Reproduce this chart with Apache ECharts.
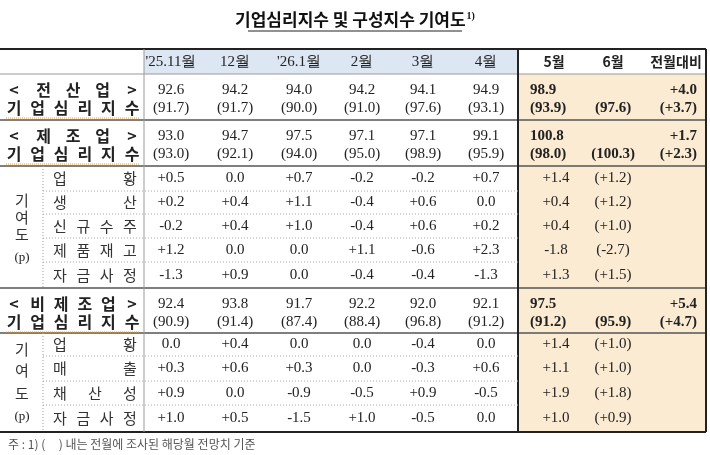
<!DOCTYPE html><html><head><meta charset="utf-8">
<script src="https://cdn.jsdelivr.net/npm/echarts@6/dist/echarts.min.js"></script>
<style>html,body{margin:0;padding:0;background:#fff}#c{width:710px;height:455px}</style></head><body><div id="c"></div>
<script>
// ---- data ----
const months = ["'25.11월","12월","'26.1월","2월","3월","4월","5월","6월","전월대비"];
const allIdx = ["92.6","94.2","94.0","94.2","94.1","94.9","98.9"];
const allPrev = ["91.7","91.7","90.0","91.0","97.6","93.1","93.9","97.6"];
const allChg = ["+4.0","+3.7"];
const mfgIdx = ["93.0","94.7","97.5","97.1","97.1","99.1","100.8"];
const mfgPrev = ["93.0","92.1","94.0","95.0","98.9","95.9","98.0","100.3"];
const mfgChg = ["+1.7","+2.3"];
const mfgItems = ["업황","생산","신규수주","제품재고","자금사정"];
const mfgVals = [
 ["+0.5","0.0","+0.7","-0.2","-0.2","+0.7","+1.4","+1.2"],
 ["+0.2","+0.4","+1.1","-0.4","+0.6","0.0","+0.4","+1.2"],
 ["-0.2","+0.4","+1.0","-0.4","+0.6","+0.2","+0.4","+1.0"],
 ["+1.2","0.0","0.0","+1.1","-0.6","+2.3","-1.8","-2.7"],
 ["-1.3","+0.9","0.0","-0.4","-0.4","-1.3","+1.3","+1.5"]];
const nonIdx = ["92.4","93.8","91.7","92.2","92.0","92.1","97.5"];
const nonPrev = ["90.9","91.4","87.4","88.4","96.8","91.2","91.2","95.9"];
const nonChg = ["+5.4","+4.7"];
const nonItems = ["업황","매출","채산성","자금사정"];
const nonVals = [
 ["0.0","+0.4","0.0","0.0","-0.4","0.0","+1.4","+1.0"],
 ["+0.3","+0.6","+0.3","0.0","-0.3","+0.6","+1.1","+1.0"],
 ["+0.9","0.0","-0.9","-0.5","+0.9","-0.5","+1.9","+1.8"],
 ["+1.0","+0.5","-1.5","+1.0","-0.5","0.0","+1.0","+0.9"]];

// ---- layout ----
const colC = [171,235,299,362,423,486,554,613,676];
const L = {top:49, head:74, r1:120, r2:166, subs:[166,191,214,238,262,288], r3:333, subs2:[333,356,381,405,432], bottom:432, xLab:144, xSub:43, xO:518, xR:706};
const NUM = "'Liberation Serif','DejaVu Serif',serif";
const KR = "'Noto Sans CJK KR',sans-serif";
const els = [];
const rect=(x1,y1,x2,y2,fill)=>els.push({t:'r',x1,y1,x2,y2,fill});
const line=(x1,y1,x2,y2,w,c,d)=>els.push({t:'l',x1,y1,x2,y2,w,c,d});
const txt=(x,y,s,o={})=>els.push(Object.assign({t:'t',x,y,s},o));
const spread=(str,x1,x2,y,o)=>{const ch=[...str];if(ch.length===1){txt((x1+x2)/2,y,str,o);return;}ch.forEach((c,i)=>txt(x1+(x2-x1)*i/(ch.length-1),y,c,Object.assign({align:'center',font:KR,size:15},o)));};

rect(L.xLab,L.top,L.xO,L.head,'#dde7f4');
rect(L.xO,L.head,L.xR,L.bottom,'#fcebd3');
line(0,L.top,L.xR,L.top,2,'#222');
line(0,L.head,L.xR,L.head,1,'#999');
[L.r1,L.r2,288,L.r3].forEach(y=>line(0,y,L.xR,y,1.5,'#555'));
line(0,L.bottom,L.xR,L.bottom,2,'#222');
line(L.xLab,L.top,L.xLab,L.bottom,1,'#999');
line(L.xO,L.top,L.xO,L.bottom,2,'#222');line(L.xR,L.top,L.xR,L.bottom,2,'#222');
line(L.xSub,L.r2,L.xSub,288,1,'#999',[1,2]);line(L.xSub,L.r3,L.xSub,L.bottom,1,'#999',[1,2]);
L.subs.slice(1,-1).forEach(y=>line(L.xSub,y,L.xO,y,1,'#aaa',[1,2]));
L.subs2.slice(1,-1).forEach(y=>line(L.xSub,y,L.xO,y,1,'#aaa',[1,2]));
months.forEach((m,i)=>txt(colC[i],62,m,{font:i<6?NUM:KR,size:i<6?15:14,bold:i>=6}));
function block(top,name,idx,prev,chg){
  spread(name,14,132,top+16,{bold:true,size:16});
  spread('기업심리지수',14,132,top+34,{bold:true,size:16});
  line(6,top+44,140,top+44,1,'#e8a040',[1,1]);
  for(let i=0;i<6;i++){txt(colC[i],top+16,idx[i]);txt(colC[i],top+34,'('+prev[i]+')');}
  txt(530,top+16,idx[6],{align:'left',bold:true});
  txt(530,top+34,'('+prev[6]+')',{align:'left',bold:true});
  txt(613,top+34,'('+prev[7]+')',{bold:true});
  txt(697,top+16,chg[0],{align:'right',bold:true});
  txt(697,top+34,'('+chg[1]+')',{align:'right',bold:true});
}
block(L.head,'<전산업>',allIdx,allPrev,allChg);
block(L.r1,'<제조업>',mfgIdx,mfgPrev,mfgChg);
block(288,'<비제조업>',nonIdx,nonPrev,nonChg);
function subs(bounds,items,vals,ky){
  items.forEach((it,r)=>{const y=(bounds[r]+bounds[r+1])/2;
    spread(it,60,130,y,{color:'#333'});
    for(let i=0;i<6;i++)txt(colC[i],y,vals[r][i]);
    txt(556,y,vals[r][6]);txt(613,y,'('+vals[r][7]+')');});
  ['기','여','도'].forEach((c,i)=>txt(22,ky[i],c,{font:KR,size:15,color:'#333'}));
  txt(22,ky[3],'(p)',{size:13});
}
subs(L.subs,mfgItems,mfgVals,[200,217,234,258]);
subs(L.subs2,nonItems,nonVals,[349,370,393,417]);
txt(8,444,'주 : 1) (     ) 내는 전월에 조사된 해당월 전망치 기준',{align:'left',font:KR,size:12,color:'#555'});
line(248,31,462,31,1,'#222');

const chart = echarts.init(document.getElementById('c'));
chart.setOption({
  animation:false,
  title:{text:'{t|기업심리지수 및 구성지수 기여도}{s|1)}',left:'center',top:6,textStyle:{rich:{t:{fontFamily:KR,fontSize:17,fontWeight:'bold',color:'#111'},s:{fontFamily:NUM,fontSize:10,fontWeight:'bold',verticalAlign:'top',color:'#111',padding:[0,0,8,1]}}}},
  grid:{left:0,right:0,top:0,bottom:0},
  xAxis:{type:'value',min:0,max:710,show:false},
  yAxis:{type:'value',min:0,max:455,inverse:true,show:false},
  series:[{type:'custom',coordinateSystem:'cartesian2d',data:els.map((e,i)=>[i]),
    renderItem:(p,api)=>{const e=els[api.value(0)];
      if(e.t==='r'){const a=api.coord([e.x1,e.y1]),b=api.coord([e.x2,e.y2]);return{type:'rect',shape:{x:a[0],y:a[1],width:b[0]-a[0],height:b[1]-a[1]},style:{fill:e.fill}};}
      if(e.t==='l'){const a=api.coord([e.x1,e.y1]),b=api.coord([e.x2,e.y2]);return{type:'line',shape:{x1:a[0],y1:a[1],x2:b[0],y2:b[1]},style:{stroke:e.c,lineWidth:e.w,lineDash:e.d||null}};}
      const a=api.coord([e.x,e.y]);
      return{type:'text',x:a[0],y:a[1],style:{text:e.s,align:e.align||'center',verticalAlign:'middle',font:(e.bold?'bold ':'')+(e.size||15)+'px '+(e.font||NUM),fill:e.color||'#222'}};
    }}]
});
</script></body></html>
